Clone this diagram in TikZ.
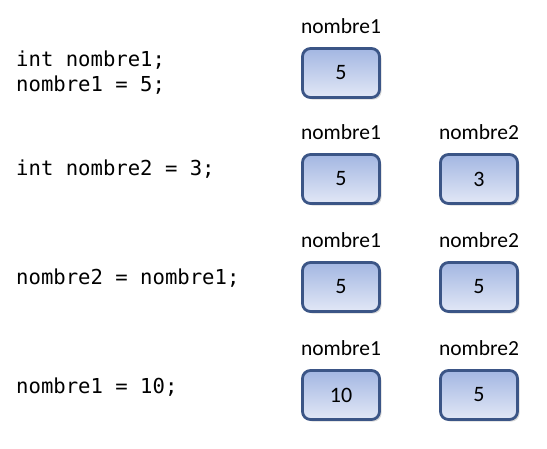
\documentclass[tikz,border=0pt]{standalone}
\usepackage{fontspec}
\setmainfont{Carlito}
\newfontfamily\codefont{DejaVu Sans Mono}
\usetikzlibrary{shadows}
\definecolor{boxline}{HTML}{3B5586}
\definecolor{boxtop}{HTML}{A3B6E2}
\definecolor{boxbot}{HTML}{E2E8F6}
\tikzset{
  varbox/.style={draw=boxline, line width=2.8pt, rounded corners=8pt,
    minimum width=77pt, minimum height=49pt, top color=boxtop, bottom color=boxbot,
    font=\fontsize{22}{22}\selectfont, inner sep=0pt,
    drop shadow={shadow xshift=2pt, shadow yshift=-2pt, opacity=0.3, fill=gray}},
  varlabel/.style={font=\fontsize{21.5}{21}\selectfont, inner sep=0pt},
  code/.style={font=\codefont\fontsize{20.6}{25}\selectfont, anchor=west, inner sep=0pt, align=left}
}
\begin{document}
\begin{tikzpicture}[x=1pt,y=-1pt]
\useasboundingbox (0,0) rectangle (547,448);
% code
\node[code, anchor=north west] (c1) at (16,51) {int nombre1;\\nombre1 = 5;};
\node[code] (c2) at (16,169) {int nombre2 = 3;};
\node[code] (c3) at (16,278) {nombre2 = nombre1;};
\node[code] (c4) at (16,387) {nombre1 = 10;};
% row 1
\node[varlabel] (l11) at (341,26) {nombre1};
\node[varbox] (b11) at (341,73) {5};
% row 2
\node[varlabel] (l21) at (341,132) {nombre1};
\node[varbox] (b21) at (341,179) {5};
\node[varlabel] (l22) at (479,132) {nombre2};
\node[varbox] (b22) at (479,179) {3};
% row 3
\node[varlabel] (l31) at (341,240) {nombre1};
\node[varbox] (b31) at (341,287) {5};
\node[varlabel] (l32) at (479,240) {nombre2};
\node[varbox] (b32) at (479,287) {5};
% row 4
\node[varlabel] (l41) at (341,348) {nombre1};
\node[varbox] (b41) at (341,395) {10};
\node[varlabel] (l42) at (479,348) {nombre2};
\node[varbox] (b42) at (479,395) {5};
\end{tikzpicture}
\end{document}
